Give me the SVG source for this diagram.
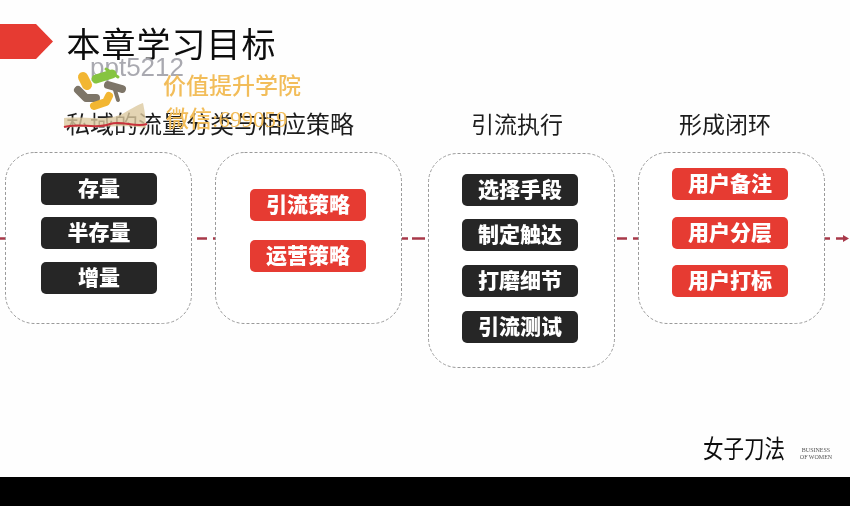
<svg xmlns="http://www.w3.org/2000/svg" width="850" height="506" viewBox="0 0 850 506">
<style>
text{font-family:"Noto Sans CJK SC","Liberation Sans",sans-serif;text-anchor:middle}
.head{font-size:23px;fill:#1c1c1c}
.box{fill:#fff;stroke:#9a9a9a;stroke-width:1;stroke-dasharray:3 2}
.dark{fill:#262626}
.red{fill:#e63a32}
.lbl{font-size:21px;font-weight:900;fill:#fff}
.link{stroke:#a8384a;stroke-width:2.500;fill:none}
.wm{font-family:"Liberation Serif","Noto Sans CJK SC",serif;font-size:23px;font-weight:500;fill:#f2bd5a;text-anchor:start}
.bone{fill:none;stroke-linecap:round;stroke-linejoin:round}
</style>
<defs>
<filter id="soft" x="-5%" y="-5%" width="110%" height="110%"><feGaussianBlur stdDeviation="0.45"/></filter>
</defs>
<rect width="850" height="506" fill="#fefefe"/>
<rect y="477" width="850" height="29" fill="#000"/>
<g filter="url(#soft)">
<g id="title">
<polygon class="red" points="0,24 36,24 53,41.500 36,59 0,59"/>
<text x="171.500" y="57" font-size="34" fill="#111" style="letter-spacing:1px">本章学习目标</text>
</g>
<g id="connectors">
<path class="link" d="M0,238.500H6M197,238.500H207M213,238.500H217M402,238.500H408M412,238.500H425M617,238.500H627M633,238.500H640M823,238.500H830M836,238.500H845"/>
<polygon points="849,238.500 843,235 843,242" fill="#a8384a"/>
</g>
<g id="col1">
<rect class="box" x="5.500" y="152.500" width="186" height="171" rx="29"/>
<text class="head" x="210" y="133" style="font-size:24px">私域的流量分类与相应策略</text>
<g id="n-cunliang"><rect class="dark" x="41" y="173" width="116" height="32" rx="5"/><text class="lbl" x="99" y="196">存量</text></g>
<g id="n-bancunliang"><rect class="dark" x="41" y="217" width="116" height="32" rx="5"/><text class="lbl" x="99" y="240">半存量</text></g>
<g id="n-zengliang"><rect class="dark" x="41" y="262" width="116" height="32" rx="5"/><text class="lbl" x="99" y="285">增量</text></g>
</g>
<g id="col2">
<rect class="box" x="215.500" y="152.500" width="186" height="171" rx="29"/>
<g id="n-yinliu"><rect class="red" x="250" y="189" width="116" height="32" rx="5"/><text class="lbl" x="308" y="212">引流策略</text></g>
<g id="n-yunying"><rect class="red" x="250" y="240" width="116" height="32" rx="5"/><text class="lbl" x="308" y="263">运营策略</text></g>
</g>
<g id="col3">
<text class="head" x="517" y="133">引流执行</text>
<rect class="box" x="428.500" y="153.500" width="186" height="214" rx="29"/>
<g id="n-xuanze"><rect class="dark" x="462" y="174" width="116" height="32" rx="5"/><text class="lbl" x="520" y="197">选择手段</text></g>
<g id="n-zhiding"><rect class="dark" x="462" y="219" width="116" height="32" rx="5"/><text class="lbl" x="520" y="242">制定触达</text></g>
<g id="n-damo"><rect class="dark" x="462" y="265" width="116" height="32" rx="5"/><text class="lbl" x="520" y="288">打磨细节</text></g>
<g id="n-ceshi"><rect class="dark" x="462" y="311" width="116" height="32" rx="5"/><text class="lbl" x="520" y="334">引流测试</text></g>
</g>
<g id="col4">
<text class="head" x="725" y="133">形成闭环</text>
<rect class="box" x="638.500" y="152.500" width="186" height="171" rx="29"/>
<g id="n-beizhu"><rect class="red" x="672" y="168" width="116" height="32" rx="5"/><text class="lbl" x="730" y="191">用户备注</text></g>
<g id="n-fenceng"><rect class="red" x="672" y="217" width="116" height="32" rx="5"/><text class="lbl" x="730" y="240">用户分层</text></g>
<g id="n-dabiao"><rect class="red" x="672" y="265" width="116" height="32" rx="5"/><text class="lbl" x="730" y="288">用户打标</text></g>
</g>
<g id="brand">
<text transform="translate(744 458) scale(1 1.2)" font-size="20.500" fill="#111">女子刀法</text>
<text x="816" y="451.500" font-size="6" fill="#555" style="font-family:'Liberation Serif',serif">BUSINESS</text>
<text x="816" y="459" font-size="6" fill="#555" style="font-family:'Liberation Serif',serif">OF WOMEN</text>
</g>
<g id="watermark">
<path d="M64,118 C85,116 108,122 124,113 C132,108 140,104 143,103 C145,112 146,122 146,128 C125,124 90,128 64,127Z" fill="#dcc9a0" opacity=".8"/>
<path d="M64,127 C80,122 95,130 110,124 C122,120 135,128 147,124" stroke="#c8303a" stroke-width="2" fill="none"/>
<text x="90" y="76" font-size="26" fill="#a9a9b0" style="text-anchor:start;font-family:'Liberation Sans',sans-serif">ppt5212</text>
<path class="bone" d="M83,77 L87,85" stroke="#f2b632" stroke-width="10"/>
<path class="bone" d="M96,79 L112,74" stroke="#86c440" stroke-width="9"/>
<path class="bone" d="M106,69 L118,77" stroke="#86c440" stroke-width="3"/>
<path class="bone" d="M78,90 L86,98 L96,98" stroke="#7d7467" stroke-width="8"/>
<path class="bone" d="M108,85 L122,89" stroke="#7d7467" stroke-width="8"/>
<path class="bone" d="M115,90 L118,100" stroke="#7d7467" stroke-width="4"/>
<path class="bone" d="M94,106 L106,102 L109,96" stroke="#f2b632" stroke-width="8"/>
<text class="wm" x="163" y="94">价值提升学院</text>
<text class="wm" x="166" y="127">微信:699059</text>
</g>
</g>
</svg>
